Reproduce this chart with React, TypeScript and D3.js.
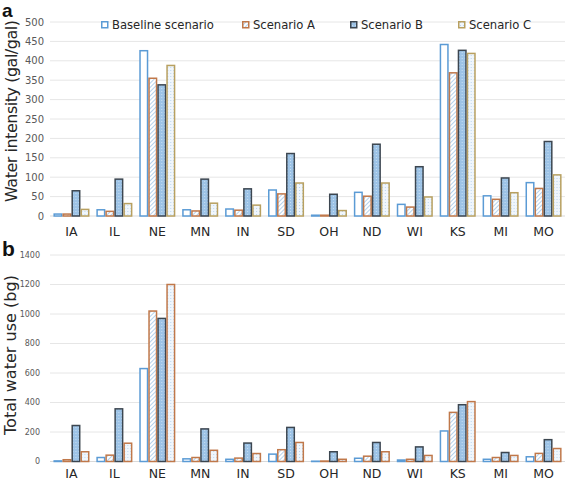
import React from "react";
import * as d3 from "d3";

const states = ["IA", "IL", "NE", "MN", "IN", "SD", "OH", "ND", "WI", "KS", "MI", "MO"];
const seriesNames = ["Baseline scenario", "Scenario A", "Scenario B", "Scenario C"];

const intensityBaseline = [5, 16, 426, 16, 18, 67, 2, 61, 30, 442, 52, 86];
const intensityA = [5, 12, 355, 13, 15, 57, 2, 51, 23, 369, 43, 71];
const intensityB = [65, 95, 338, 95, 70, 161, 56, 185, 127, 427, 98, 192];
const intensityC = [17, 32, 388, 33, 28, 85, 14, 85, 49, 419, 60, 106];

const totalBaseline = [4, 27, 630, 18, 15, 50, 2, 22, 10, 207, 15, 32];
const totalA = [12, 43, 1020, 27, 23, 80, 3, 36, 15, 333, 27, 55];
const totalB = [244, 357, 970, 221, 125, 231, 66, 129, 99, 385, 61, 148];
const totalC = [66, 124, 1200, 76, 54, 129, 15, 66, 41, 406, 41, 88];

const intensityTicks = [0, 50, 100, 150, 200, 250, 300, 350, 400, 450, 500];
const totalTicks = [0, 200, 400, 600, 800, 1000, 1200, 1400];

const FONT = "'DejaVu Sans', Verdana, sans-serif";

const fills = ["#ffffff", "url(#hatchA)", "url(#dotsB)", "url(#dotsC)"];
const strokesA = ["#5b9bd5", "#c0784a", "#3c4650", "#b8a060"];
const strokesB = ["#5b9bd5", "#c0784a", "#3c4650", "#c0784a"];

function Panel({ series, ticks, yMax, y0, yTop, strokes, title, titleX, titleY, titleLen, tickRight, tickSize, labelY }) {
  const x = d3.scaleBand<string>().domain(states).range([50, 565]).paddingInner(0.16).paddingOuter(0.08);
  const inner = d3.scaleBand<number>().domain([0, 1, 2, 3]).range([0, x.bandwidth()]).padding(0);
  const y = d3.scaleLinear().domain([0, yMax]).range([y0, yTop]);
  return (
    <g>
      {ticks.map((t) => (
        <g key={t}>
          {t > 0 && (
            <line x1={50} x2={565} y1={y(t)} y2={y(t)} stroke="#e6e6e6" strokeWidth={1} />
          )}
          <text x={tickRight} y={y(t)} dy="0.35em" textAnchor="end" fontSize={tickSize} fill="#595959" fontFamily={FONT}>
            {t}
          </text>
        </g>
      ))}
      <line x1={50} x2={565} y1={y0} y2={y0} stroke="#d9d9d9" strokeWidth={1} />
      {states.map((s, i) => (
        <g key={s} transform={`translate(${x(s)},0)`}>
          {series.map((vals, k) => {
            const v = vals[i];
            const top = y(v);
            return (
              <rect
                key={k}
                x={(inner(k) as number) + 0.75}
                y={top}
                width={inner.bandwidth() - 1.5}
                height={Math.max(0, y0 - top)}
                fill={fills[k]}
                stroke={strokes[k]}
                strokeWidth={1.5}
              />
            );
          })}
          <text
            x={x.bandwidth() / 2}
            y={labelY}
            dy="0.35em"
            textAnchor="middle"
            fontSize={12.5}
            fill="#262626"
            fontFamily={FONT}
          >
            {s}
          </text>
        </g>
      ))}
      <text
        transform={`translate(${titleX},${titleY}) rotate(-90)`}
        textAnchor="middle"
        dy="0.35em"
        fontSize={16}
        fill="#262626"
        fontFamily={FONT}
        textLength={titleLen}
        lengthAdjust="spacing"
      >
        {title}
      </text>
    </g>
  );
}

export default function App() {
  const legendX = [101, 242, 350, 458];
  const legendStrokes = strokesA;
  return (
    <svg width={567} height={480} style={{ position: "absolute", left: 0, top: 0, background: "#fff" }}>
      <defs>
        <pattern id="hatchA" patternUnits="userSpaceOnUse" width={3} height={3} patternTransform="rotate(45)">
          <rect width={3} height={3} fill="#ffffff" />
          <line x1={0} y1={0} x2={0} y2={3} stroke="#9cc3e8" strokeWidth={1.5} />
        </pattern>
        <pattern id="dotsB" patternUnits="userSpaceOnUse" width={3} height={3}>
          <rect width={3} height={3} fill="#9dc3e6" />
          <rect x={1} y={1} width={1} height={1} fill="#c8dff2" />
        </pattern>
        <pattern id="dotsC" patternUnits="userSpaceOnUse" width={3} height={3}>
          <rect width={3} height={3} fill="#f0f6fc" />
          <rect x={1} y={1} width={1} height={1} fill="#bcd6ee" />
        </pattern>
      </defs>
      <text x={2} y={17} fontSize={19} fontWeight="bold" fill="#111" fontFamily="'Liberation Sans', Arial, sans-serif">
        a
      </text>
      <text x={2} y={256} fontSize={21} fontWeight="bold" fill="#111" fontFamily="'Liberation Sans', Arial, sans-serif">
        b
      </text>
      <Panel
        series={[intensityBaseline, intensityA, intensityB, intensityC]}
        ticks={intensityTicks}
        yMax={500}
        y0={216}
        yTop={22}
        strokes={strokesA}
        title="Water intensity (gal/gal)"
        titleX={11}
        titleY={111}
        titleLen={182}
        tickRight={44}
        tickSize={10}
        labelY={232}
      />
      <Panel
        series={[totalBaseline, totalA, totalB, totalC]}
        ticks={totalTicks}
        yMax={1400}
        y0={461.5}
        yTop={255}
        strokes={strokesB}
        title="Total water use (bg)"
        titleX={10}
        titleY={355}
        titleLen={160}
        tickRight={40}
        tickSize={8}
        labelY={474}
      />
      {seriesNames.map((n, k) => (
        <g key={n}>
          <rect x={legendX[k] + 0.75} y={21.75} width={6} height={6} fill={fills[k]} stroke={legendStrokes[k]} strokeWidth={1.5} />
          <text x={legendX[k] + 11} y={25} dy="0.35em" fontSize={11.6} fill="#262626" fontFamily={FONT}>
            {n}
          </text>
        </g>
      ))}
    </svg>
  );
}
